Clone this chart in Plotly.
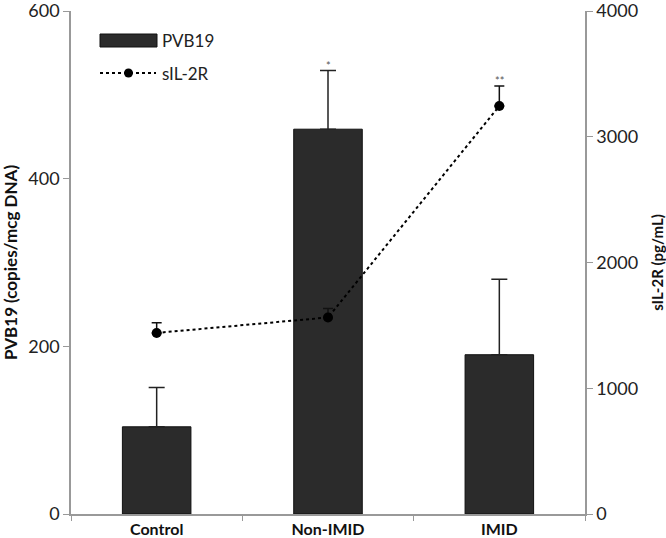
import plotly.graph_objects as go

categories = ["Control", "Non-IMID", "IMID"]
pvb19 = [104, 459, 190]
pvb19_err = [47, 70, 90]
sil2r = [1440, 1563, 3245]
sil2r_err = [80, 72, 158]
stars = ["", "*", "**"]

font = "Lato, 'Open Sans', sans-serif"

W, H = 666, 538
L, R, T, B = 71, 81, 11, 24
pw, ph = W - L - R, H - T - B


def px(x):
    return (x - L) / pw


def py(y):
    return (H - B - y) / ph


fig = go.Figure()
fig.add_trace(go.Bar(
    x=categories, y=pvb19, name="PVB19", width=0.4,
    marker=dict(color="#2b2b2b", line=dict(color="#111111", width=1)),
    error_y=dict(type="data", array=pvb19_err, arrayminus=[0]*3, symmetric=False,
                 color="#222222", thickness=1.5, width=8),
    yaxis="y", showlegend=False))
fig.add_trace(go.Scatter(
    x=categories, y=sil2r, name="sIL-2R", mode="lines+markers",
    line=dict(color="black", width=2, dash="dot"),
    marker=dict(color="black", size=10),
    error_y=dict(type="data", array=sil2r_err, arrayminus=[0]*3, symmetric=False,
                 color="#111111", thickness=1.5, width=5),
    yaxis="y2", showlegend=False))

for c, v, e, s in zip(categories, pvb19, pvb19_err, stars):
    if c == "Non-IMID":
        fig.add_annotation(x=c, y=v + e, yref="y", text=s, showarrow=False,
                           yanchor="bottom", yshift=-3, font=dict(size=11, color="#555"))
for c, v, e, s in zip(categories, sil2r, sil2r_err, stars):
    if c == "IMID":
        fig.add_annotation(x=c, y=v + e, yref="y2", text=s, showarrow=False,
                           yanchor="bottom", yshift=-3, font=dict(size=11, color="#555"))

# custom legend
fig.add_shape(type="rect", xref="paper", yref="paper",
              x0=px(100), x1=px(157), y0=py(47), y1=py(34),
              fillcolor="#2b2b2b", line=dict(color="#111", width=1))
fig.add_shape(type="line", xref="paper", yref="paper",
              x0=px(100), x1=px(156), y0=py(73), y1=py(73),
              line=dict(color="black", width=2, dash="dot"))
fig.add_shape(type="circle", xref="paper", yref="paper",
              x0=px(124), x1=px(133), y0=py(77.5), y1=py(68.5),
              fillcolor="black", line=dict(color="black", width=0))
fig.add_annotation(xref="paper", yref="paper", x=px(160), y=py(41), text="PVB19",
                   showarrow=False, xanchor="left", yanchor="middle",
                   font=dict(size=17, color="#222"))
fig.add_annotation(xref="paper", yref="paper", x=px(160), y=py(73), text="sIL-2R",
                   showarrow=False, xanchor="left", yanchor="middle",
                   font=dict(size=17, color="#222"))

fig.update_layout(
    width=W, height=H,
    margin=dict(l=L, r=R, t=T, b=B),
    plot_bgcolor="white", paper_bgcolor="white",
    font=dict(family=font, size=18, color="#222"),
    showlegend=False,
    xaxis=dict(showline=True, linecolor="#999", linewidth=1.5, ticks="outside",
               tickson="boundaries", ticklen=5, tickcolor="#999",
               tickfont=dict(size=16, color="#111", family=font, weight="bold"),
               range=[-0.5, 2.5], automargin=False, ticklabeloverflow="allow"),
    yaxis=dict(range=[0, 600], tickvals=[0, 200, 400, 600], showgrid=False,
               showline=True, linecolor="#999", linewidth=1.5, ticks="outside",
               ticklen=6, tickcolor="#999", zeroline=False, automargin=False,
               ticklabeloverflow="allow",
               title=dict(text="PVB19 (copies/mcg DNA)",
                          font=dict(size=17, weight="bold", color="#111"))),
    yaxis2=dict(range=[0, 4000], tickvals=[0, 1000, 2000, 3000, 4000], overlaying="y",
                side="right", showgrid=False, showline=True, linecolor="#999",
                linewidth=1.5, ticks="outside", ticklen=6, tickcolor="#999",
                zeroline=False, automargin=False, ticklabeloverflow="allow",
                title=dict(text="sIL-2R (pg/mL)",
                           font=dict(size=15, weight="bold", color="#111"))),
)

fig.write_html("out.html", config={"displayModeBar": False},
               post_script="document.body.style.margin='0';document.body.style.overflow='hidden';")
